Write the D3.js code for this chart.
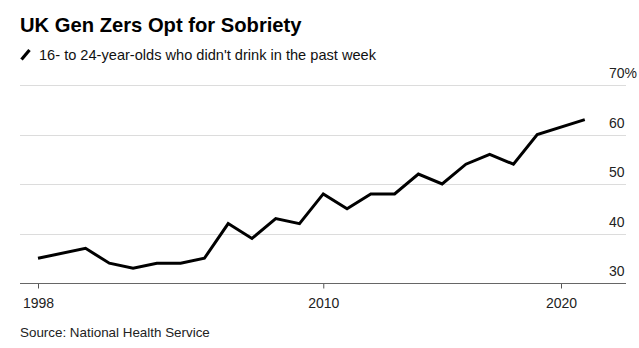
<!DOCTYPE html>
<html>
<head>
<meta charset="utf-8">
<script src="https://cdn.jsdelivr.net/npm/d3@7"></script>
<style>
  html, body { margin: 0; padding: 0; background: #fff; }
  svg { display: block; font-family: "Liberation Sans", Arial, Helvetica, sans-serif; }
</style>
</head>
<body>
<svg id="chart" width="639" height="348"></svg>
<script>
// Share of 16- to 24-year-olds in England who didn't drink in the past week (%)
const years  = [1998, 2000, 2001, 2002, 2003, 2004, 2005, 2006, 2007, 2008, 2009,
                2010, 2011, 2012, 2013, 2014, 2015, 2016, 2017, 2018, 2019, 2021];
const shares = [35, 37, 34, 33, 34, 34, 35, 42, 39, 43, 42,
                48, 45, 48, 48, 52, 50, 54, 56, 54, 60, 63];
const xTickYears = [1998, 2010, 2020];
const yTickValues = [30, 40, 50, 60, 70];

const title = "UK Gen Zers Opt for Sobriety";
const subtitle = "16- to 24-year-olds who didn't drink in the past week";
const source = "Source: National Health Service";

const svg = d3.select("#chart");

const plotLeft = 20, plotRight = 626;
const x = d3.scaleLinear().domain([1998, 2020]).range([38, 561]);
const y = d3.scaleLinear().domain([30, 70]).range([283, 85]);

// Title and subtitle
svg.append("text")
  .attr("x", 20).attr("y", 31.5)
  .attr("font-size", 20.2).attr("font-weight", "bold").attr("fill", "#000")
  .text(title);

// Legend swatch: a short slanted stroke
svg.append("line")
  .attr("x1", 21.5).attr("y1", 59.5)
  .attr("x2", 29.5).attr("y2", 50)
  .attr("stroke", "#000").attr("stroke-width", 3.2).attr("stroke-linecap", "butt");

svg.append("text")
  .attr("x", 39).attr("y", 60)
  .attr("font-size", 14.6).attr("fill", "#111")
  .text(subtitle);

// Horizontal gridlines (the lowest one serves as the baseline)
const grid = svg.append("g");
grid.selectAll("line")
  .data(yTickValues.filter(v => v !== 30))
  .join("line")
  .attr("x1", plotLeft).attr("x2", plotRight)
  .attr("y1", d => Math.round(y(d)) + 0.5)
  .attr("y2", d => Math.round(y(d)) + 0.5)
  .attr("stroke", "#dcdcdc").attr("stroke-width", 1.2);

// Y labels sit above their gridlines at the right edge
svg.append("g").selectAll("text")
  .data(yTickValues)
  .join("text")
  .attr("x", 609)
  .attr("y", d => y(d) - 7)
  .attr("font-size", 14).attr("fill", "#222")
  .text(d => d === 70 ? d + "%" : d);

// X axis
const xAxis = d3.axisBottom(x)
  .tickValues(xTickYears)
  .tickFormat(d3.format("d"))
  .tickSize(5)
  .tickPadding(10)
  .tickSizeOuter(0);

const xg = svg.append("g")
  .attr("transform", `translate(0,${Math.round(y(30)) + 0.5})`)
  .call(xAxis);
xg.select(".domain").remove();
xg.selectAll(".tick line").attr("stroke", "#555");
xg.selectAll(".tick text")
  .attr("font-size", 14).attr("fill", "#222")
  .attr("font-family", "\"Liberation Sans\", Arial, sans-serif");

svg.append("line")
  .attr("x1", plotLeft).attr("x2", plotRight)
  .attr("y1", Math.round(y(30)) + 0.5).attr("y2", Math.round(y(30)) + 0.5)
  .attr("stroke", "#666").attr("stroke-width", 1);

// Data line
const line = d3.line()
  .x((d, i) => x(years[i]))
  .y(d => y(d));

svg.append("path")
  .datum(shares)
  .attr("d", line)
  .attr("fill", "none")
  .attr("stroke", "#000")
  .attr("stroke-width", 3)
  .attr("stroke-linejoin", "miter");

// Source note
svg.append("text")
  .attr("x", 20).attr("y", 337)
  .attr("font-size", 13.4).attr("fill", "#222")
  .text(source);
</script>
</body>
</html>
